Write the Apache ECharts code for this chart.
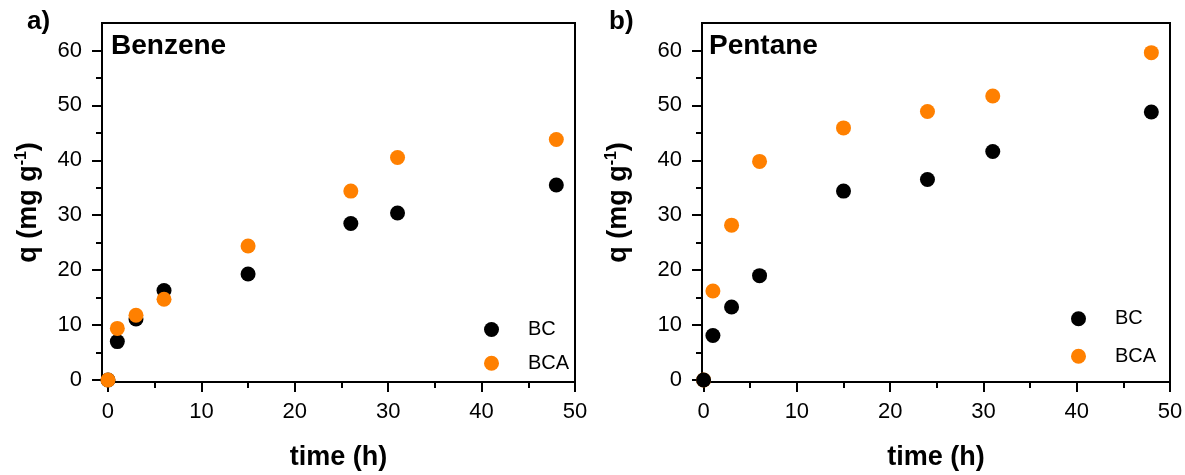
<!DOCTYPE html>
<html>
<head>
<meta charset="utf-8">
<script src="https://cdn.jsdelivr.net/npm/echarts@6/dist/echarts.min.js"></script>
<style>
  html, body { margin: 0; padding: 0; background: #ffffff; }
  #chart { width: 1185px; height: 475px; }
</style>
</head>
<body>
<div id="chart"></div>
<script>
// Adsorption kinetics: uptake q (mg/g) versus contact time (h)
const timeBenzene = [0, 1, 3, 6, 15, 26, 31, 48];
const benzeneBC   = [0, 7.0, 11.1, 16.3, 19.3, 28.5, 30.4, 35.5];
const benzeneBCA  = [0, 9.4, 11.8, 14.7, 24.4, 34.4, 40.5, 43.8];

const timePentane = [0, 1, 3, 6, 15, 24, 31, 48];
const pentaneBC   = [0, 8.1, 13.3, 19.0, 34.4, 36.5, 41.6, 48.8];
const pentaneBCA  = [0, 16.2, 28.2, 39.8, 45.9, 48.9, 51.7, 59.6];

const seriesNames = ['BC', 'BCA'];
const panelTitles = ['Benzene', 'Pentane'];
const panelTags   = ['a)', 'b)'];

const xMajorTicks = [0, 10, 20, 30, 40, 50];
const xMinorTicks = [5, 15, 25, 35, 45];
const yMajorTicks = [0, 10, 20, 30, 40, 50, 60];
const yMinorTicks = [5, 15, 25, 35, 45, 55];

const FONT = '"Liberation Sans", Arial, Helvetica, sans-serif';
const BLACK = '#000000';
const ORANGE = '#FF8000';

const pairs = (xs, ys) => xs.map((x, i) => [x, ys[i]]);

const grids = [
  { left: 102, right: 610, top: 23, bottom: 93 },
  { left: 702, right: 15,  top: 23, bottom: 93 }
];
const xMins = [-0.64, -0.17];
const yNameGaps = [58, 68];

function majorX(g) {
  return {
    type: 'value', gridIndex: g, min: xMins[g], max: 50, position: 'bottom',
    axisLine: { show: true, onZero: false, lineStyle: { color: BLACK, width: 2 } },
    axisTick: { show: true, inside: false, length: 10, customValues: xMajorTicks,
                lineStyle: { color: BLACK, width: 2 } },
    axisLabel: { show: true, customValues: xMajorTicks, margin: 19,
                 fontSize: 22, color: BLACK, fontFamily: FONT },
    splitLine: { show: false },
    name: 'time (h)', nameLocation: 'middle', nameGap: 62,
    nameTextStyle: { fontSize: 27, fontWeight: 'bold', color: BLACK, fontFamily: FONT }
  };
}
function minorX(g) {
  return {
    type: 'value', gridIndex: g, min: xMins[g], max: 50, position: 'bottom',
    axisLine: { show: false, onZero: false },
    axisTick: { show: true, inside: false, length: 6, customValues: xMinorTicks,
                lineStyle: { color: BLACK, width: 2 } },
    axisLabel: { show: false },
    splitLine: { show: false }
  };
}
function majorY(g) {
  return {
    type: 'value', gridIndex: g, min: -0.36, max: 65, position: 'left',
    axisLine: { show: true, onZero: false, lineStyle: { color: BLACK, width: 2 } },
    axisTick: { show: true, inside: false, length: 10, customValues: yMajorTicks,
                lineStyle: { color: BLACK, width: 2 } },
    axisLabel: { show: true, customValues: yMajorTicks, margin: 20,
                 fontSize: 22, color: BLACK, fontFamily: FONT },
    splitLine: { show: false },
    name: '{m|q (mg g}{s|-1}{m|)}', nameLocation: 'middle', nameGap: yNameGaps[g],
    nameTextStyle: {
      color: BLACK, fontFamily: FONT,
      rich: {
        m: { fontSize: 27, fontWeight: 'bold', color: BLACK, fontFamily: FONT, lineHeight: 30 },
        s: { fontSize: 16, fontWeight: 'bold', color: BLACK, fontFamily: FONT,
             lineHeight: 16, verticalAlign: 'top' }
      }
    }
  };
}
function minorY(g) {
  return {
    type: 'value', gridIndex: g, min: -0.36, max: 65, position: 'left',
    axisLine: { show: false, onZero: false },
    axisTick: { show: true, inside: false, length: 6, customValues: yMinorTicks,
                lineStyle: { color: BLACK, width: 2 } },
    axisLabel: { show: false },
    splitLine: { show: false }
  };
}

function scatter(name, g, data, color, z) {
  return {
    type: 'scatter', name: name, xAxisIndex: g * 2, yAxisIndex: g * 2,
    data: data, symbol: 'circle', symbolSize: 15, z: z,
    itemStyle: { color: color, opacity: 1 },
    emphasis: { disabled: true }, clip: true
  };
}

const titleStyle = { fontSize: 28, fontWeight: 'bold', color: BLACK, fontFamily: FONT };
const tagStyle = { fontSize: 26, fontWeight: 'bold', color: BLACK, fontFamily: FONT };

// legend text sits well to the right of its marker
const legendCommon = {
  data: seriesNames, orient: 'vertical', icon: 'circle',
  itemWidth: 15, itemHeight: 15, selectedMode: false, padding: 0,
  formatter: name => '{g|}{t|' + name + '}',
  textStyle: {
    color: BLACK, fontFamily: FONT, fontSize: 20, lineHeight: 15,
    rich: {
      g: { width: 24, lineHeight: 15 },
      t: { fontSize: 20, color: BLACK, fontFamily: FONT, lineHeight: 15 }
    }
  }
};

const option = {
  animation: false,
  backgroundColor: '#ffffff',
  grid: grids.map(g => Object.assign({
    show: true, borderColor: BLACK, borderWidth: 2, backgroundColor: 'transparent',
    containLabel: false, outerBoundsMode: 'none'
  }, g)),
  title: [
    { text: panelTags[0], left: 27, top: 9, padding: 0, textStyle: tagStyle },
    { text: panelTags[1], left: 609, top: 9, padding: 0, textStyle: tagStyle },
    { text: panelTitles[0], left: 111, top: 32, padding: 0, textStyle: titleStyle },
    { text: panelTitles[1], left: 709, top: 32, padding: 0, textStyle: titleStyle }
  ],
  legend: [
    Object.assign({ left: 484, top: 319.5, itemGap: 13.7 }, legendCommon),
    Object.assign({ left: 1071, top: 308.8, itemGap: 17.4 }, legendCommon)
  ],
  xAxis: [majorX(0), minorX(0), majorX(1), minorX(1)],
  yAxis: [majorY(0), minorY(0), majorY(1), minorY(1)],
  series: [
    scatter(seriesNames[0], 0, pairs(timeBenzene, benzeneBC), BLACK, 2),
    scatter(seriesNames[1], 0, pairs(timeBenzene, benzeneBCA), ORANGE, 3),
    scatter(seriesNames[1], 1, pairs(timePentane, pentaneBCA), ORANGE, 2),
    scatter(seriesNames[0], 1, pairs(timePentane, pentaneBC), BLACK, 3)
  ]
};

const chart = echarts.init(document.getElementById('chart'), null, { renderer: 'canvas' });
chart.setOption(option);
</script>
</body>
</html>
